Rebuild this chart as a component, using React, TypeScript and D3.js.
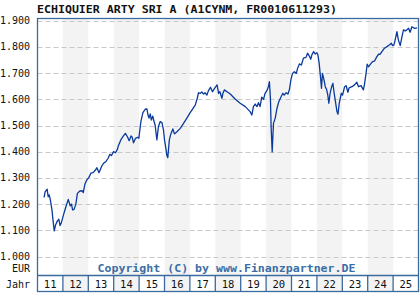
import React from "react";
import * as d3 from "d3";

const TITLE = "ECHIQUIER ARTY SRI A (A1CYNM, FR0010611293)";
const COPYRIGHT = "Copyright (C) by www.Finanzpartner.DE";
const CURRENCY = "EUR";
const X_LABEL = "Jahr";
const yearLabels = ["11", "12", "13", "14", "15", "16", "17", "18", "19", "20", "21", "22", "23", "24", "25"];
const firstYear = 2011;
const yTicks = [1000, 1100, 1200, 1300, 1400, 1500, 1600, 1700, 1800, 1900];

const dates = [
  2011.26, 2011.30, 2011.38, 2011.42, 2011.46, 2011.50, 2011.57, 2011.61, 2011.66, 2011.71,
  2011.79, 2011.84, 2011.89, 2011.94, 2012.02, 2012.10, 2012.21, 2012.29, 2012.34, 2012.38,
  2012.44, 2012.51, 2012.57, 2012.67, 2012.76, 2012.80, 2012.87, 2012.94, 2013.02, 2013.10,
  2013.19, 2013.28, 2013.34, 2013.42, 2013.52, 2013.60, 2013.69, 2013.78, 2013.85, 2013.91,
  2013.99, 2014.07, 2014.15, 2014.18, 2014.28, 2014.39, 2014.46, 2014.54, 2014.61, 2014.68,
  2014.73, 2014.78, 2014.86, 2014.94, 2014.99, 2015.07, 2015.15, 2015.24, 2015.31, 2015.35,
  2015.39, 2015.44, 2015.48, 2015.54, 2015.58, 2015.63, 2015.70, 2015.76, 2015.83, 2015.90,
  2015.96, 2016.00, 2016.06, 2016.09, 2016.13, 2016.19, 2016.25, 2016.33, 2016.39, 2016.49,
  2016.62, 2016.75, 2016.88, 2017.01, 2017.08, 2017.21, 2017.29, 2017.34, 2017.41, 2017.47,
  2017.54, 2017.60, 2017.67, 2017.73, 2017.81, 2017.89, 2017.97, 2018.07, 2018.13, 2018.18,
  2018.26, 2018.30, 2018.36, 2018.46, 2018.59, 2018.78, 2018.98, 2019.18, 2019.37, 2019.44,
  2019.50, 2019.57, 2019.64, 2019.70, 2019.76, 2019.83, 2019.90, 2019.96, 2020.03, 2020.09,
  2020.13, 2020.17, 2020.20, 2020.24, 2020.29, 2020.36, 2020.43, 2020.50, 2020.58, 2020.66,
  2020.71, 2020.79, 2020.86, 2020.92, 2020.98, 2021.04, 2021.11, 2021.19, 2021.24, 2021.31,
  2021.39, 2021.47, 2021.57, 2021.63, 2021.70, 2021.76, 2021.80, 2021.87, 2021.93, 2022.00,
  2022.04, 2022.09, 2022.14, 2022.18, 2022.22, 2022.28, 2022.33, 2022.38, 2022.43, 2022.47,
  2022.52, 2022.58, 2022.63, 2022.68, 2022.73, 2022.79, 2022.83, 2022.88, 2022.92, 2022.96,
  2023.01, 2023.09, 2023.15, 2023.22, 2023.27, 2023.38, 2023.48, 2023.57, 2023.64, 2023.74,
  2023.83, 2023.87, 2023.93, 2023.98, 2024.03, 2024.11, 2024.19, 2024.27, 2024.36, 2024.43,
  2024.49, 2024.56, 2024.66, 2024.76, 2024.85, 2024.93, 2024.98, 2025.03, 2025.08, 2025.15,
  2025.21, 2025.28, 2025.35, 2025.41, 2025.48, 2025.54, 2025.61, 2025.67, 2025.74, 2025.80,
  2025.87, 2025.94,
];

const values = [
  1226, 1247, 1257, 1228, 1235, 1219, 1178, 1139, 1098, 1120,
  1137, 1142, 1118, 1129, 1158, 1184, 1218, 1193, 1200, 1178,
  1180, 1200, 1241, 1250, 1251, 1244, 1277, 1292, 1301, 1318,
  1320, 1330, 1339, 1320, 1343, 1356, 1362, 1375, 1390, 1385,
  1400, 1396, 1410, 1422, 1445, 1461, 1470, 1457, 1442, 1460,
  1455, 1434, 1451, 1455, 1451, 1515, 1549, 1562, 1563, 1540,
  1528, 1544, 1521, 1536, 1518, 1502, 1445, 1495, 1515, 1511,
  1483, 1445, 1409, 1387, 1377, 1445, 1468, 1487, 1468, 1476,
  1489, 1508, 1528, 1549, 1559, 1578, 1604, 1625, 1623, 1628,
  1620, 1625, 1616, 1633, 1646, 1629, 1642, 1655, 1623, 1629,
  1604, 1623, 1636, 1629, 1620, 1601, 1585, 1572, 1553, 1540,
  1572, 1582, 1572, 1587, 1572, 1608, 1600, 1623, 1633, 1648,
  1667, 1604, 1489, 1399, 1508, 1528, 1566, 1591, 1608, 1623,
  1616, 1625, 1620, 1638, 1676, 1699, 1705, 1699, 1718, 1735,
  1731, 1757, 1760, 1776, 1765, 1753, 1769, 1782, 1773, 1778,
  1769, 1737, 1686, 1642, 1699, 1674, 1648, 1638, 1616, 1585,
  1623, 1648, 1661, 1623, 1591, 1553, 1543, 1585, 1604, 1623,
  1616, 1648, 1652, 1627, 1644, 1648, 1655, 1665, 1648, 1652,
  1636, 1655, 1695, 1734, 1724, 1734, 1744, 1746, 1763, 1772,
  1772, 1782, 1795, 1801, 1807, 1814, 1805, 1807, 1826, 1858,
  1826, 1805, 1839, 1865, 1861, 1865, 1871, 1856, 1877, 1873,
  1871, 1873,
];

const deLocale = d3.formatLocale({ decimal: ",", thousands: ".", grouping: [3], currency: ["", " €"] });
const fmt = deLocale.format(",d");

export default function App() {
  const W = 420;
  const H = 300;
  const left = 37.5;
  const right = 418.5;
  const top = 18.5;
  const plotBottom = 275.5;
  const axisBottom = 291.5;
  const frame = "#3a6a9e";
  const mono = "'DejaVu Sans Mono', 'Liberation Mono', monospace";

  const x = d3.scaleLinear().domain([firstYear, firstYear + yearLabels.length]).range([left, right]);
  const y = d3.scaleLinear().domain([1000, 1900]).range([256.5, 20.7]);

  const data: [number, number][] = dates.map((d, i) => [d, values[i]]);
  const line = d3
    .line<[number, number]>()
    .x((d) => x(d[0]))
    .y((d) => y(d[1]));

  return (
    <div style={{ position: "fixed", left: 0, top: 0, width: W, height: H, background: "#fff" }}>
      <svg width={W} height={H} style={{ display: "block" }}>
        <rect x={0} y={0} width={W} height={H} fill="#fff" />
        {yearLabels.map((lab, i) =>
          i % 2 === 1 ? (
            <rect
              key={"band" + lab}
              x={x(firstYear + i)}
              y={top}
              width={x(firstYear + i + 1) - x(firstYear + i)}
              height={axisBottom - top}
              fill="#f3f3f3"
            />
          ) : null
        )}
        {yTicks.map((t) => (
          <line
            key={"g" + t}
            x1={left}
            x2={right}
            y1={Math.round(y(t)) + 0.5}
            y2={Math.round(y(t)) + 0.5}
            stroke="#c8c8c8"
            strokeWidth={1}
            strokeDasharray="5,3"
          />
        ))}
        {yTicks.map((t) => (
          <text
            key={"yl" + t}
            x={30}
            y={y(t)}
            dy="0.35em"
            textAnchor="end"
            fontFamily={mono}
            fontSize={10}
            fill="#111"
          >
            {fmt(t)}
          </text>
        ))}
        <text x={30} y={272} textAnchor="end" fontFamily={mono} fontSize={10} fill="#111">
          {CURRENCY}
        </text>
        <text x={30} y={287.5} textAnchor="end" fontFamily={mono} fontSize={10} fill="#111">
          {X_LABEL}
        </text>
        <text
          x={37}
          y={12.5}
          fontFamily={mono}
          fontWeight="bold"
          fontSize={11.2}
          textLength={300}
          lengthAdjust="spacingAndGlyphs"
          fill="#111"
        >
          {TITLE}
        </text>
        <text
          x={97.5}
          y={272}
          fontFamily={mono}
          fontWeight="bold"
          fontSize={11}
          textLength={258}
          lengthAdjust="spacingAndGlyphs"
          fill="#3b6ea6"
        >
          {COPYRIGHT}
        </text>
        <path d={line(data) || ""} fill="none" stroke="#0a3a9c" strokeWidth={1.3} strokeLinejoin="round" />
        <rect x={left} y={top} width={right - left} height={axisBottom - top} fill="none" stroke={frame} strokeWidth={1.3} />
        <line x1={left} x2={right} y1={plotBottom} y2={plotBottom} stroke={frame} strokeWidth={1.3} />
        {yearLabels.map((lab, i) => (
          <g key={"yr" + lab}>
            {i > 0 ? (
              <line
                x1={x(firstYear + i)}
                x2={x(firstYear + i)}
                y1={plotBottom}
                y2={axisBottom}
                stroke={frame}
                strokeWidth={1.3}
              />
            ) : null}
            <text
              x={(x(firstYear + i) + x(firstYear + i + 1)) / 2}
              y={287.5}
              textAnchor="middle"
              fontFamily={mono}
              fontSize={10.5}
              fill="#111"
            >
              {lab}
            </text>
          </g>
        ))}
      </svg>
    </div>
  );
}
